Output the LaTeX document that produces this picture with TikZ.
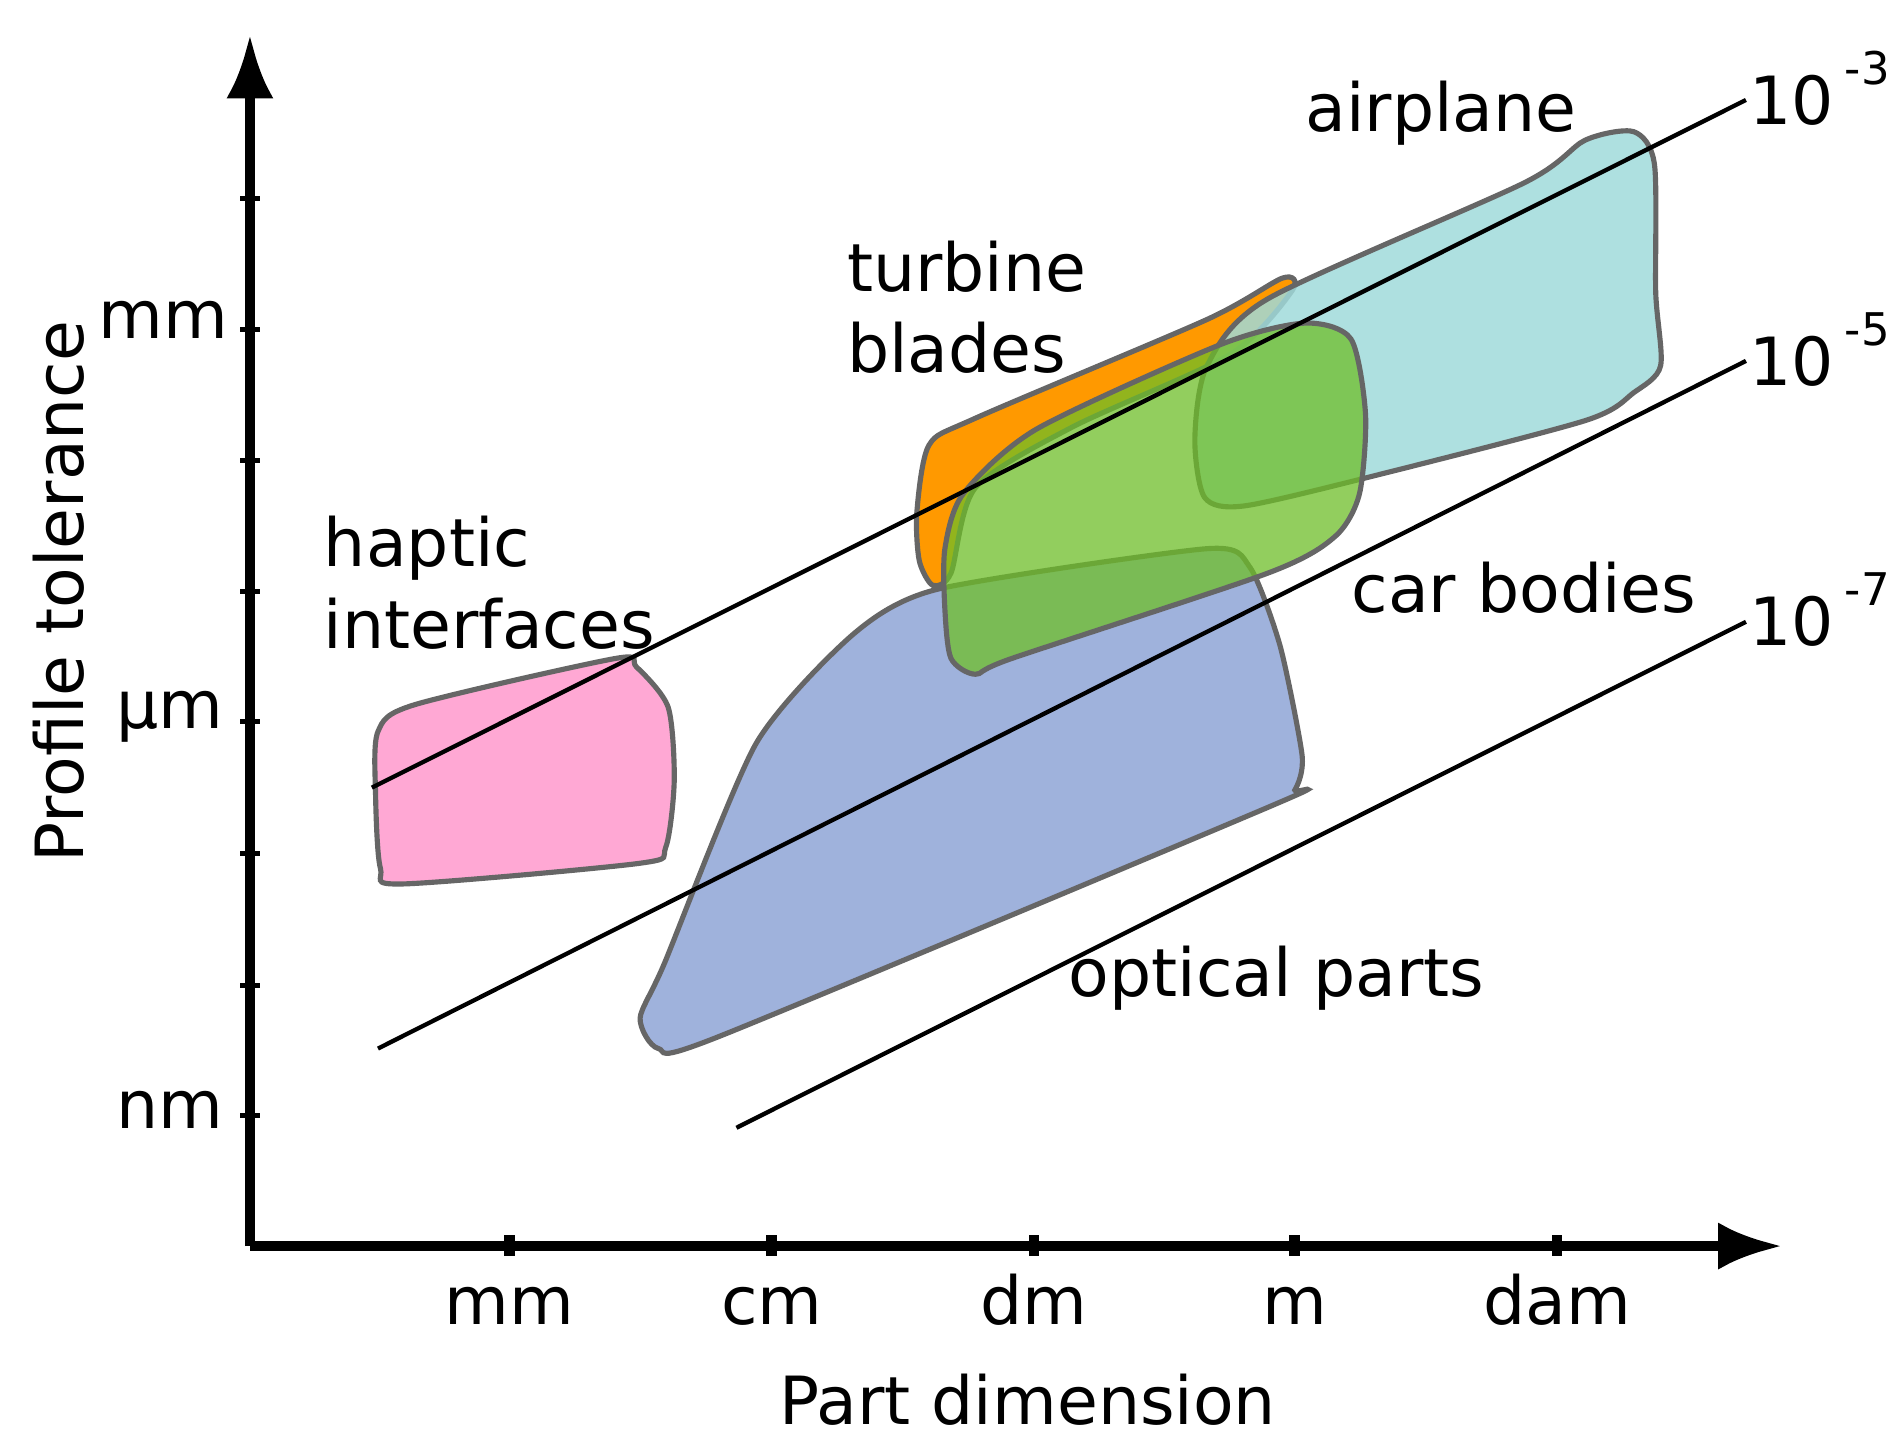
\documentclass[tikz,border=0pt]{standalone}
\usepackage{fontspec}
\setmainfont{DejaVu Sans}
\usetikzlibrary{arrows.meta}
\begin{document}
\begin{tikzpicture}[x=0.01cm,y=-0.01cm,
  lbl/.style={font=\fontsize{15.5}{19}\selectfont,inner sep=0pt},
  blob/.style={draw=gray!80!black,line width=1.2pt,fill opacity=0.85},
  tl/.style={line width=1pt}]
\useasboundingbox (0,0) rectangle (1560,1190);
% shapes
\draw[blob,fill={rgb,255:red,142;green,164;blue,214}] plot[smooth cycle,tension=0.4] coordinates
 {(525,835)(545,790)(620,610)(700,520)(770,483)(990,450)(1025,465)(1050,530)(1068,620)(1062,648)(1045,660)(590,850)(540,860)};
\draw[blob,fill={rgb,255:red,255;green,153;blue,204}] plot[smooth cycle,tension=0.45] coordinates
 {(310,600)(340,578)(505,540)(522,547)(548,580)(553,640)(546,695)(525,708)(330,725)(312,712)(308,650)};
\draw[blob,fill={rgb,255:red,255;green,153;blue,0},fill opacity=1] plot[smooth cycle,tension=0.45] coordinates
 {(752,420)(762,365)(800,343)(990,262)(1052,228)(1060,238)(1010,290)(880,350)(800,400)(780,470)(765,480)(754,460)};
\draw[blob,fill={rgb,255:red,160;green,218;blue,218}] plot[smooth cycle,tension=0.45] coordinates
 {(990,300)(1040,245)(1250,150)(1300,115)(1340,108)(1357,135)(1358,240)(1362,300)(1340,322)(1300,345)(1120,392)(1020,415)(988,408)(980,360)};
\draw[blob,fill={rgb,255:red,110;green,190;blue,40},fill opacity=0.75] plot[smooth cycle,tension=0.45] coordinates
 {(775,450)(790,405)(850,352)(1000,283)(1070,265)(1108,278)(1120,340)(1115,405)(1095,440)(1040,470)(830,540)(800,553)(780,540)(775,500)};
% axes
\coordinate (o) at (205,1022);
\coordinate (ytop) at (205,28);
\coordinate (xend) at (1462,1022);
\draw[line width=2.5pt,-{Latex[length=15pt,width=11pt]}] (o) -- (ytop);
\draw[line width=2.5pt,-{Latex[length=15pt,width=11pt]}] (o) -- (xend);
\foreach \y in {163,270,378,485,592,700,808,915} \draw[line width=1.2pt] (197,\y) -- (213,\y);
\foreach \x in {418,633,848,1062,1277} \draw[line width=2.5pt] (\x,1013) -- (\x,1030);
\node[lbl,anchor=east] (ymm) at (188,262) {mm};
\node[lbl,anchor=east] (yum) at (184,588) {µm};
\node[lbl,anchor=east] (ynm) at (184,910) {nm};
\foreach \x/\t/\n in {418/mm/a,633/cm/b,848/dm/c,1062/m/d,1277/dam/e} \node[lbl,anchor=base] (x\n) at (\x,1086) {\t};
\node[lbl,rotate=90] (ylab) at (48,485) {Profile tolerance};
\node[lbl] (xlab) at (843,1148) {Part dimension};
% tolerance lines
\coordinate (a1) at (305,646); \coordinate (a2) at (1432,82);
\coordinate (b1) at (310,860); \coordinate (b2) at (1432,296);
\coordinate (c1) at (604,925); \coordinate (c2) at (1432,510);
\draw[tl] (a1) -- (a2); \draw[tl] (b1) -- (b2); \draw[tl] (c1) -- (c2);
\node[lbl,anchor=west] (l3) at (1434,72) {10\,\raisebox{1.1ex}{\fontsize{10.5}{12}\selectfont -3}};
\node[lbl,anchor=west] (l5) at (1434,287) {10\,\raisebox{1.1ex}{\fontsize{10.5}{12}\selectfont -5}};
\node[lbl,anchor=west] (l7) at (1434,500) {10\,\raisebox{1.1ex}{\fontsize{10.5}{12}\selectfont -7}};
% labels
\node[lbl,anchor=west,align=left] (hap) at (265,478) {haptic\\interfaces};
\node[lbl,anchor=west,align=left] (tur) at (694,252) {turbine\\blades};
\node[lbl] (air) at (1182,93) {airplane};
\node[lbl] (car) at (1250,482) {car bodies};
\node[lbl] (opt) at (1047,802) {optical parts};
\end{tikzpicture}
\end{document}
